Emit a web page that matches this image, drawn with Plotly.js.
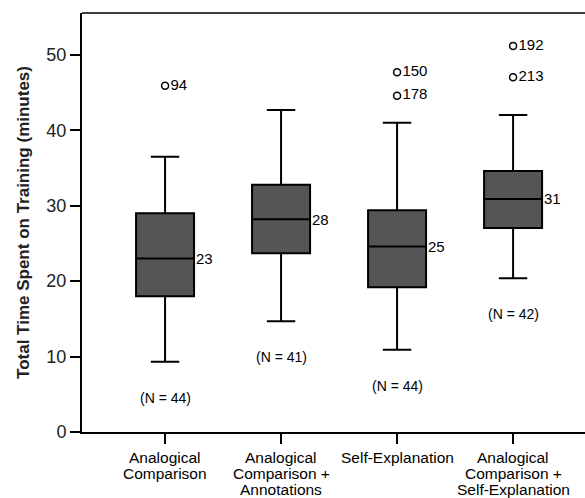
<!DOCTYPE html>
<html>
<head>
<meta charset="utf-8">
<script src="https://cdn.plot.ly/plotly-3.0.1.min.js"></script>
<style>html,body{margin:0;padding:0;background:#fff;}#chart{width:585px;height:498px;}</style>
</head>
<body>
<div id="chart"></div>
<script>
// ---- data ----
const categories = [
  "Analogical<br>Comparison",
  "Analogical<br>Comparison +<br>Annotations",
  "Self-Explanation",
  "Analogical<br>Comparison +<br>Self-Explanation"
];
const lowerWhisker = [9.3, 14.7, 10.9, 20.4];
const q1Values     = [18.0, 23.7, 19.2, 27.05];
const medianValues = [23.0, 28.2, 24.6, 30.9];
const q3Values     = [29.0, 32.8, 29.4, 34.6];
const upperWhisker = [36.5, 42.7, 41.0, 42.05];
const nCounts      = [44, 41, 44, 42];
// outliers: group index, value, case id
const outlierGroup = [0, 2, 2, 3, 3];
const outlierValue = [45.9, 47.7, 44.6, 51.2, 47.05];
const outlierId    = ["94", "150", "178", "192", "213"];

const xPos = categories.map((c, i) => i);
const FONT = "Liberation Sans, Arial, sans-serif";

const traces = [
  {
    type: "box",
    x: xPos,
    q1: q1Values,
    median: medianValues,
    q3: q3Values,
    lowerfence: lowerWhisker,
    upperfence: upperWhisker,
    width: 0.5,
    whiskerwidth: 0.49,
    boxpoints: false,
    fillcolor: "#555555",
    line: {color: "#000000", width: 2},
    hoverinfo: "skip",
    showlegend: false
  },
  {
    type: "scatter",
    mode: "markers+text",
    x: outlierGroup,
    y: outlierValue,
    text: outlierId,
    textposition: "middle right",
    textfont: {family: FONT, size: 15, color: "#000"},
    marker: {symbol: "circle-open", size: 7, color: "#000", line: {width: 1.5, color: "#000"}},
    cliponaxis: false,
    hoverinfo: "skip",
    showlegend: false
  }
];

const annotations = [];
xPos.forEach((x, i) => {
  // median labels
  annotations.push({
    x: x + 0.25, y: medianValues[i], xref: "x", yref: "y",
    text: String(Math.round(medianValues[i])),
    showarrow: false, xanchor: "left", yanchor: "middle", xshift: 0,
    font: {family: FONT, size: 15, color: "#000"}
  });
  // sample size labels
  annotations.push({
    x: x, y: lowerWhisker[i], xref: "x", yref: "y",
    text: "(N = " + nCounts[i] + ")",
    showarrow: false, xanchor: "center", yanchor: "middle", yshift: -36,
    font: {family: FONT, size: 14, color: "#000"}
  });
  // category labels with tight line spacing
  categories[i].split("<br>").forEach((line, j) => {
    annotations.push({
      x: x, y: 0, xref: "x", yref: "paper",
      text: line, showarrow: false, xanchor: "center", yanchor: "middle",
      yshift: -25 - j * 16,
      font: {family: FONT, size: 15.5, color: "#000"}
    });
  });
});

const layout = {
  width: 585, height: 498,
  margin: {l: 82, r: 0, t: 13, b: 66},
  paper_bgcolor: "#ffffff",
  plot_bgcolor: "#ffffff",
  font: {family: FONT, color: "#000"},
  showlegend: false,
  xaxis: {
    range: [-0.716, 3.62],
    tickvals: xPos,
    showticklabels: false,
    ticks: "outside", ticklen: 10, tickwidth: 2, tickcolor: "#000",
    showline: true, linecolor: "#000", linewidth: 2,
    showgrid: false, zeroline: false, fixedrange: true
  },
  yaxis: {
    range: [0, 55.56],
    tickvals: [0, 10, 20, 30, 40, 50],
    ticks: "outside", ticklen: 10, tickwidth: 2, tickcolor: "#000",
    tickfont: {family: FONT, size: 18, color: "#222"},
    showline: true, linecolor: "#000", linewidth: 2,
    showgrid: false, zeroline: false, fixedrange: true,
    title: {text: "Total Time Spent on Training (minutes)", font: {family: FONT, size: 17, weight: "bold", color: "#222"}, standoff: 12}
  },
  shapes: [
    {type: "line", xref: "paper", yref: "paper", x0: 0, x1: 1, y0: 1, y1: 1, line: {color: "#000", width: 1.5}}
  ],
  annotations: annotations
};

Plotly.newPlot("chart", traces, layout, {displayModeBar: false, staticPlot: true});
</script>
</body>
</html>
